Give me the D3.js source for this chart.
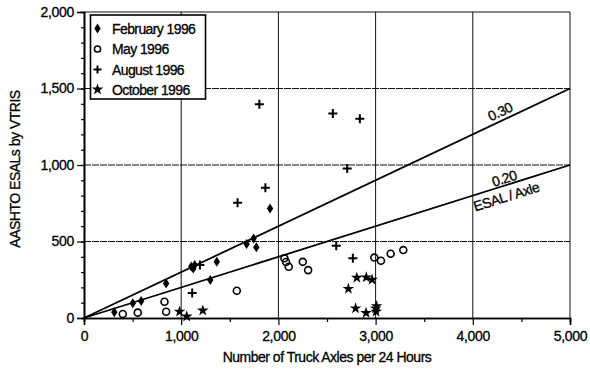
<!DOCTYPE html>
<html><head><meta charset="utf-8">
<script src="https://cdn.jsdelivr.net/npm/d3@7"></script>
<style>
body{margin:0;background:#fff;}
text{font-family:"Liberation Sans",Arial,sans-serif;fill:#000;stroke:#000;stroke-width:0.3px;}
</style></head>
<body><svg id="c" width="590" height="370"></svg>
<script>
// ---- data ----
const febX = [312, 502, 588, 845, 1103, 1124, 1139, 1299, 1366, 1673, 1745, 1773, 1914];
const febY = [37, 96, 111, 226, 336, 324, 346, 248, 367, 483, 520, 463, 716];
const mayX = [399, 553, 828, 845, 1572, 2062, 2079, 2106, 2251, 2306, 2987, 3055, 3155, 3285];
const mayY = [26, 35, 106, 41, 178, 390, 366, 335, 367, 313, 395, 374, 420, 444];
const augX = [1804, 2560, 2838, 2708, 1866, 1580, 1193, 1113, 2595, 2766];
const augY = [1397, 1336, 1303, 977, 852, 753, 346, 163, 473, 390];
const octX = [983, 1057, 1222, 2807, 2904, 2964, 2720, 2794, 2902, 3000, 3005, 3010];
const octY = [42, 10, 49, 263, 266, 250, 191, 63, 33, 63, 42, 78];
const seriesNames = ["February 1996", "May 1996", "August 1996", "October 1996"];
const xTicks = [0, 1000, 2000, 3000, 4000, 5000];
const yTicks = [0, 500, 1000, 1500, 2000];
const rates = [0.30, 0.20];
const rateLabels = ["0.30", "0.20"];
const xTitle = "Number of Truck Axles per 24 Hours";
const yTitle = "AASHTO ESALs by VTRIS";
const rateUnit = "ESAL / Axle";

const svg = d3.select("#c");
const L = 84, R = 570, T = 12, B = 318;
const x = d3.scaleLinear().domain([0, 5000]).range([L, R]);
const y = d3.scaleLinear().domain([0, 2000]).range([B, T]);

// grid
const g = svg.append("g");
g.selectAll(".vg").data(xTicks.slice(1)).join("line")
  .attr("x1", d => x(d)).attr("x2", d => x(d)).attr("y1", B).attr("y2", T)
  .attr("stroke", "#111").attr("stroke-width", 1);
g.selectAll(".hg").data(yTicks.slice(1)).join("line")
  .attr("x1", L).attr("x2", R).attr("y1", d => y(d)).attr("y2", d => y(d))
  .attr("stroke", "#111").attr("stroke-width", 1).attr("stroke-dasharray", d => d === 2000 ? null : "7,1");

// axes
svg.append("g").attr("transform", `translate(0,${B})`)
  .call(d3.axisBottom(x).tickValues(d3.range(500, 5000, 1000)).tickSize(4).tickFormat(""));
svg.append("g").attr("transform", `translate(0,${B})`)
  .call(d3.axisBottom(x).tickValues(xTicks).tickSize(7).tickPadding(6).tickFormat(d3.format(",")));
svg.append("g").attr("transform", `translate(${L},0)`)
  .call(d3.axisLeft(y).tickValues(d3.range(100, 2000, 100)).tickSize(3).tickFormat(""));
svg.append("g").attr("transform", `translate(${L},0)`)
  .call(d3.axisLeft(y).tickValues(yTicks).tickSize(7).tickPadding(3).tickFormat(d3.format(",")));
svg.selectAll(".domain").attr("stroke", "#000").attr("stroke-width", 1.6);
svg.selectAll(".tick line").attr("stroke", "#000").attr("stroke-width", 1.2);
svg.selectAll(".tick text").style("font-size", "14px").style("letter-spacing", "-0.3px");

// rate lines
rates.forEach(r => {
  svg.append("line").attr("x1", x(0)).attr("y1", y(0)).attr("x2", x(5000)).attr("y2", y(5000 * r))
    .attr("stroke", "#000").attr("stroke-width", 1.8);
});
const ang = r => Math.atan2(y(0) - y(5000 * r), x(5000) - x(0)) * 180 / Math.PI;
function rateText(r, xv, off, txt) {
  const px = x(xv), py = y(xv * r);
  svg.append("text").attr("transform", `translate(${px},${py}) rotate(${-ang(r)})`)
    .attr("y", off).attr("text-anchor", "middle").style("font-size", "14px").style("letter-spacing", "-0.5px").text(txt);
}
rateText(rates[0], 4320, -4, rateLabels[0]);
rateText(rates[1], 4345, -2, rateLabels[1]);
rateText(rates[1], 4310, 16, rateUnit);

// symbols
const diamond = "M0,-5L3.2,0L0,5L-3.2,0Z";
const star = d3.symbol(d3.symbolStar, 42)();
const plus = "M-4.5,0H4.5M0,-4.5V4.5";
function draw(xs, ys, kind) {
  const pts = xs.map((v, i) => [v, ys[i]]);
  const sel = svg.append("g").selectAll("path").data(pts).join("path")
    .attr("transform", d => `translate(${x(d[0])},${y(d[1])})`);
  if (kind === 0) sel.attr("d", diamond).attr("fill", "#000");
  if (kind === 1) sel.attr("d", d3.symbol(d3.symbolCircle, 38)()).attr("fill", "none").attr("stroke", "#000").attr("stroke-width", 1.6);
  if (kind === 2) sel.attr("d", plus).attr("fill", "none").attr("stroke", "#000").attr("stroke-width", 2);
  if (kind === 3) sel.attr("d", star).attr("fill", "#000");
}
draw(febX, febY, 0);
draw(mayX, mayY, 1);
draw(augX, augY, 2);
draw(octX, octY, 3);

// legend
const lg = svg.append("g");
lg.append("rect").attr("x", 90.5).attr("y", 15).attr("width", 115).attr("height", 84)
  .attr("fill", "#fff").attr("stroke", "#000").attr("stroke-width", 1.6);
const rowsY = [28.5, 49, 69.5, 89.5];
seriesNames.forEach((n, i) => {
  const p = lg.append("path").attr("transform", `translate(97.5,${rowsY[i]})`);
  if (i === 0) p.attr("d", diamond).attr("fill", "#000");
  if (i === 1) p.attr("d", d3.symbol(d3.symbolCircle, 30)()).attr("fill", "none").attr("stroke", "#000").attr("stroke-width", 1.5);
  if (i === 2) p.attr("d", "M-4,0H4M0,-4V4").attr("stroke", "#000").attr("stroke-width", 2);
  if (i === 3) p.attr("d", star).attr("fill", "#000");
  lg.append("text").attr("x", 112).attr("y", rowsY[i]).attr("dy", "0.36em")
    .style("font-size", "14px").style("letter-spacing", "-0.6px").text(n);
});

// titles
svg.append("text").attr("x", (L + R) / 2).attr("y", 362).attr("text-anchor", "middle")
  .style("font-size", "14px").style("letter-spacing", "-0.5px").text(xTitle);
svg.append("text").attr("transform", `translate(20,${(T + B) / 2 + 4}) rotate(-90)`).attr("text-anchor", "middle")
  .style("font-size", "14px").style("letter-spacing", "-0.5px").text(yTitle);
</script></body></html>
